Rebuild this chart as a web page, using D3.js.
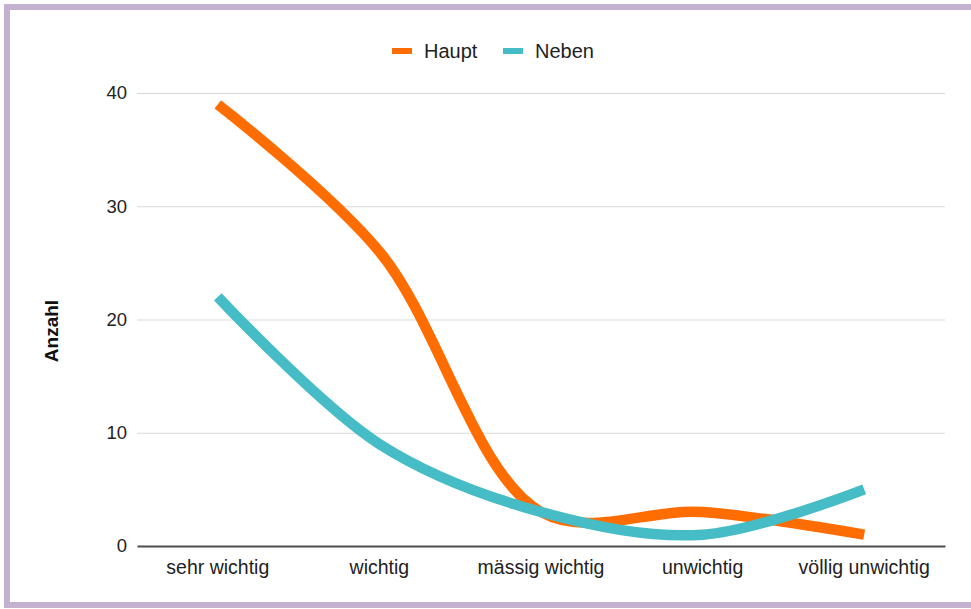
<!DOCTYPE html>
<html>
<head>
<meta charset="utf-8">
<script src="https://cdn.jsdelivr.net/npm/d3@7"></script>
<style>
  html, body { margin: 0; padding: 0; background: #ffffff; }
  svg { display: block; font-family: "Liberation Sans", Arial, sans-serif; }
</style>
</head>
<body>
<svg id="chart" width="971" height="609"></svg>
<script>
// Rating categories along the x axis
const categories = ["sehr wichtig", "wichtig", "mässig wichtig", "unwichtig", "völlig unwichtig"];
// Counts per category
const haupt = [39, 26, 3, 3, 1];
const neben = [22, 9, 3, 1, 5];
// Axis ticks and series labels
const yTicks = [0, 10, 20, 30, 40];
const seriesNames = ["Haupt", "Neben"];
const seriesColors = ["#ff6d01", "#46bdc6"];
const yTitle = "Anzahl";

const svg = d3.select("#chart");

// Outer frame
svg.append("rect")
  .attr("x", 7).attr("y", 7)
  .attr("width", 1000).attr("height", 598)
  .attr("fill", "#ffffff")
  .attr("stroke", "#c4b0cf")
  .attr("stroke-width", 6);

const plot = { left: 137, right: 945, top: 93, bottom: 546 };

const x = d3.scaleBand()
  .domain(categories)
  .range([plot.left, plot.right])
  .padding(0);

const y = d3.scaleLinear()
  .domain([0, 40])
  .range([plot.bottom, plot.top]);

// Horizontal gridlines with value labels
const yAxis = d3.axisLeft(y)
  .tickValues(yTicks)
  .tickSize(-(plot.right - plot.left))
  .tickPadding(10)
  .tickFormat(d3.format("d"));

const gy = svg.append("g")
  .attr("transform", `translate(${plot.left},0)`)
  .call(yAxis);
gy.select(".domain").remove();
gy.selectAll(".tick line")
  .attr("stroke", "#d9d9d9")
  .attr("stroke-width", 1);
gy.selectAll(".tick text")
  .attr("fill", "#222222")
  .attr("font-size", 18.5)
  .attr("font-family", "Liberation Sans, Arial, sans-serif");

// Baseline and category labels
const xAxis = d3.axisBottom(x).tickSize(0).tickPadding(14);
const gx = svg.append("g")
  .attr("transform", `translate(0,${plot.bottom})`)
  .call(xAxis);
gx.select(".domain")
  .attr("stroke", "#4d4d4d")
  .attr("stroke-width", 2);
gx.selectAll(".tick text")
  .attr("fill", "#222222")
  .attr("font-size", 19.5)
  .attr("font-family", "Liberation Sans, Arial, sans-serif");

// Y axis title
svg.append("text")
  .attr("transform", `translate(58,331) rotate(-90)`)
  .attr("text-anchor", "middle")
  .attr("font-size", 19)
  .attr("font-weight", "bold")
  .attr("fill", "#111111")
  .text(yTitle);

// Smoothed series lines (centripetal Catmull-Rom)
const line = d3.line()
  .x((d, i) => x(categories[i]) + x.bandwidth() / 2)
  .y(d => y(d))
  .curve(d3.curveCatmullRom.alpha(0.5));

[haupt, neben].forEach((values, k) => {
  svg.append("path")
    .datum(values)
    .attr("fill", "none")
    .attr("stroke", seriesColors[k])
    .attr("stroke-width", 10.5)
    .attr("stroke-linejoin", "round")
    .attr("d", line);
});

// Legend
const legendX = [392, 503];
const legend = svg.append("g");
seriesNames.forEach((name, k) => {
  legend.append("rect")
    .attr("x", legendX[k]).attr("y", 48)
    .attr("width", 20).attr("height", 6)
    .attr("fill", seriesColors[k]);
  legend.append("text")
    .attr("x", legendX[k] + 32).attr("y", 57.5)
    .attr("font-size", 20)
    .attr("fill", "#222222")
    .text(name);
});
</script>
</body>
</html>
